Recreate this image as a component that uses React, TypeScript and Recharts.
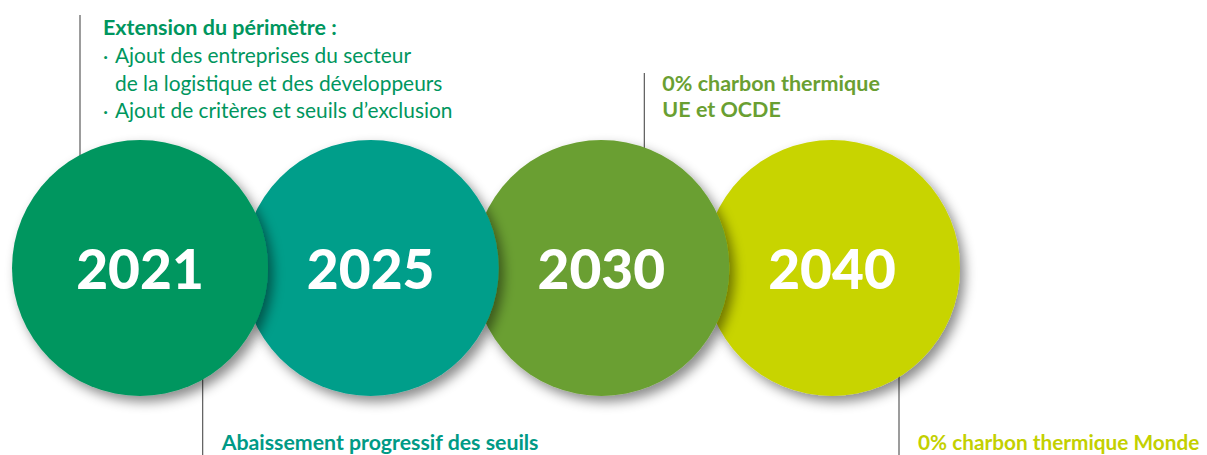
import React from 'react';
import { ScatterChart, Scatter, XAxis, YAxis } from 'recharts';

// milestones, left to right
const years = ['2021', '2025', '2030', '2040'];
const circleColors = ['#00965e', '#009e8a', '#6a9f32', '#c8d400'];
const noteColors = ['#00965e', '#009a86', '#6a9f32', '#c3d000'];

const noteTitles = [
  ['Extension du périmètre :'],
  ['Abaissement progressif des seuils'],
  ['0% charbon thermique', 'UE et OCDE'],
  ['0% charbon thermique Monde'],
];

// bullet items, each one can wrap on several lines
const noteItems = [
  [
    ['Ajout des entreprises du secteur', 'de la logistique et des développeurs'],
    ['Ajout de critères et seuils d’exclusion'],
  ],
  [],
  [],
  [],
];

const data = years.map((year, i) => ({
  pos: i,
  level: 0,
  year,
  color: circleColors[i],
  noteColor: noteColors[i],
  titles: noteTitles[i],
  items: noteItems[i],
}));

const W = 1207;
const H = 455;
const R = 128;
const FONT = 'Lato, "Open Sans", sans-serif';

// where each note sits relative to its circle
const noteLayout = [
  { side: 'top', dx: -60, top: 15, first: 35, pad: 23, size: 21.5 },
  { side: 'bottom', dx: -168, first: 450, pad: 19, size: 21.3 },
  { side: 'top', dx: 43, top: 73, first: 91, pad: 18, size: 21.5 },
  { side: 'bottom', dx: 67, first: 450, pad: 19, size: 20.8 },
];

const LINE_GAP = 27;

function Note(props: any) {
  const { cx, cy, payload } = props;
  const lay = noteLayout[payload.pos];
  const lx = cx + lay.dx;
  const tx = lx + lay.pad;
  const rows: React.ReactNode[] = [];
  let y = lay.first;
  payload.titles.forEach((t: string, k: number) => {
    rows.push(
      <text key={'t' + k} x={tx} y={y} fill={payload.noteColor} fontSize={lay.size} fontWeight={700} fontFamily={FONT}>
        {t}
      </text>
    );
    y += LINE_GAP - 1;
  });
  if (payload.items.length) y += 2;
  payload.items.forEach((item: string[], k: number) => {
    item.forEach((line: string, j: number) => {
      if (j === 0) {
        rows.push(
          <text key={'b' + k} x={tx} y={y} fill={payload.noteColor} fontSize={20} fontFamily={FONT}>
            ·
          </text>
        );
      }
      rows.push(
        <text key={'i' + k + '-' + j} x={tx + 12} y={y} fill={payload.noteColor} fontSize={20.9} fontFamily={FONT}>
          {line}
        </text>
      );
      y += LINE_GAP + 0.5;
    });
  });
  const y1 = lay.side === 'top' ? lay.top : cy;
  const y2 = lay.side === 'top' ? cy : H;
  return (
    <g>
      <line x1={lx} x2={lx} y1={y1} y2={y2} stroke="#5a5a5a" strokeWidth={1.2} />
      {rows}
    </g>
  );
}

function Bubble(props: any) {
  const { cx, cy, payload } = props;
  return (
    <g>
      <circle cx={cx} cy={cy} r={R} fill={payload.color} filter="url(#bubbleShadow)" />
      <text
        x={cx}
        y={cy + 21}
        textAnchor="middle"
        fill="#ffffff"
        fontSize={55}
        fontWeight={900}
        fontFamily={FONT}
      >
        {payload.year}
      </text>
    </g>
  );
}

export default function App() {
  return (
    <div style={{ position: 'absolute', left: 0, top: 0, width: W, height: H, background: '#fff' }}>
      <ScatterChart width={W} height={H} margin={{ top: 81, right: W - 832, bottom: 0, left: 140 }}>
        <defs>
          <filter id="bubbleShadow" x="-20%" y="-20%" width="150%" height="150%">
            <feDropShadow dx={5} dy={6} stdDeviation={6} floodColor="#000" floodOpacity={0.45} />
          </filter>
        </defs>
        <XAxis type="number" dataKey="pos" domain={[0, 3]} hide />
        <YAxis type="number" dataKey="level" domain={[-1, 1]} hide />
        <Scatter data={data} shape={Note} isAnimationActive={false} />
        <Scatter data={[...data].reverse()} shape={Bubble} isAnimationActive={false} />
      </ScatterChart>
    </div>
  );
}
